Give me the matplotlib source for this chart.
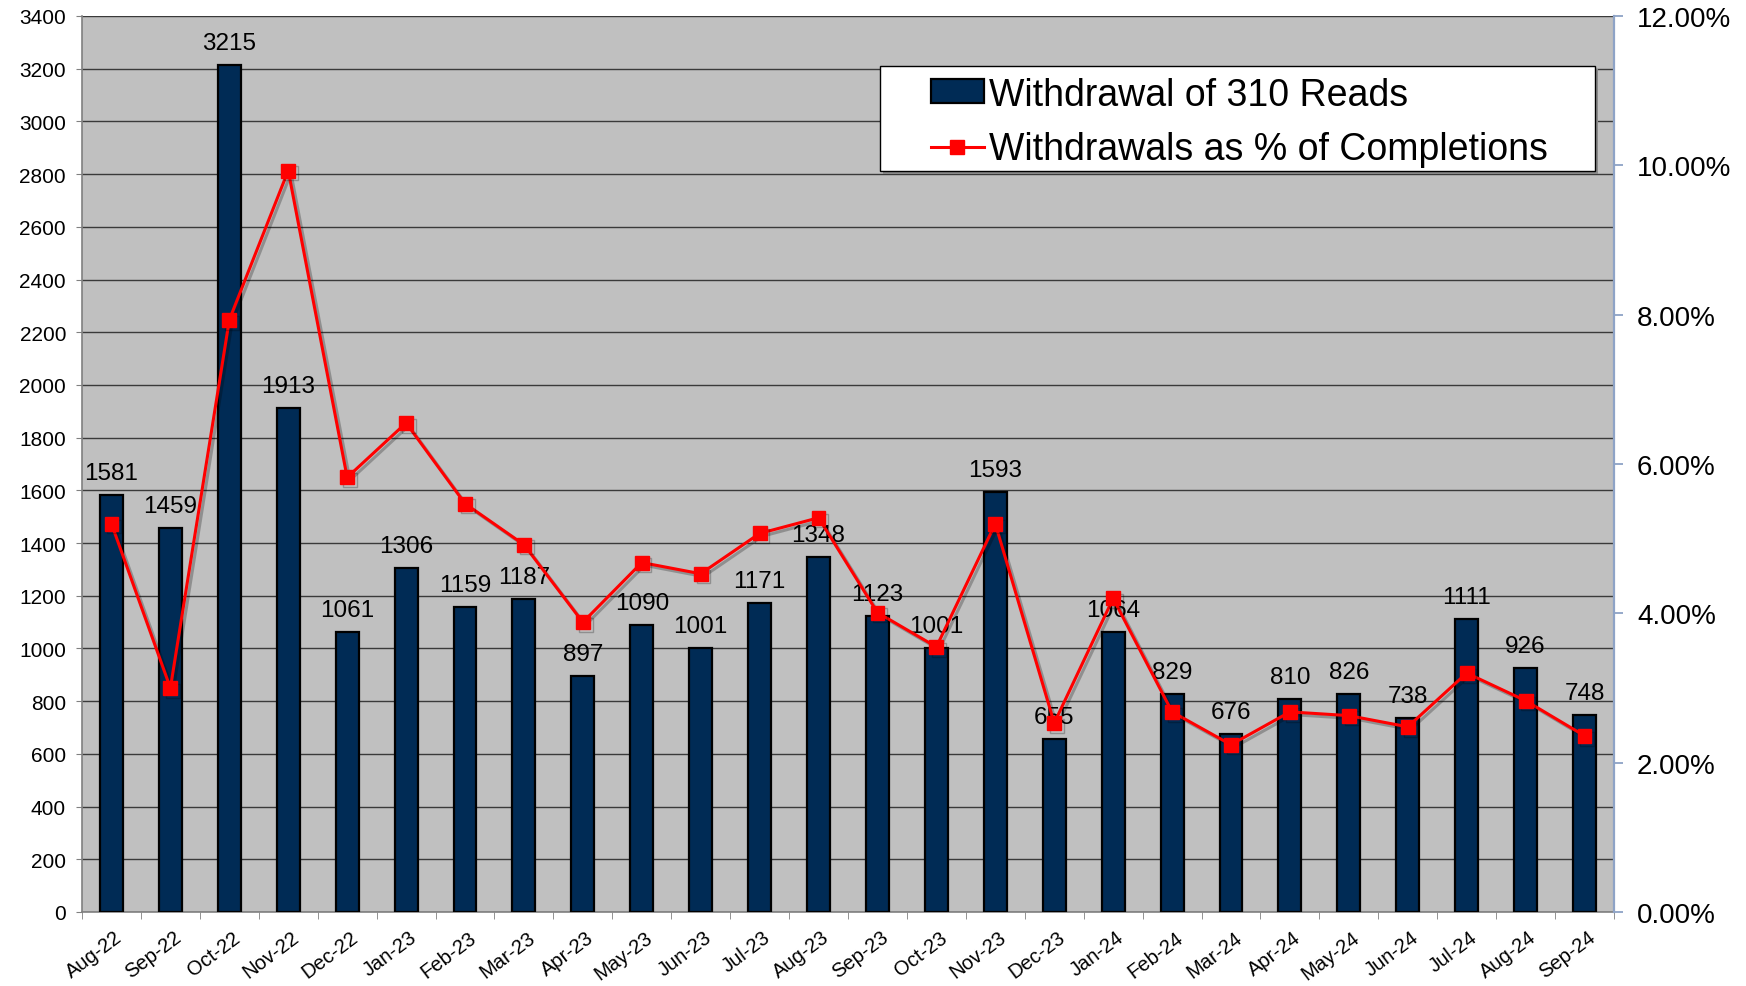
import numpy as np
import matplotlib
matplotlib.use("Agg")
import matplotlib.pyplot as plt
import matplotlib.patheffects as pe
from matplotlib.patches import Rectangle, Patch
from matplotlib.lines import Line2D
from matplotlib.ticker import FuncFormatter
from matplotlib.transforms import ScaledTranslation

months = ["Aug-22", "Sep-22", "Oct-22", "Nov-22", "Dec-22", "Jan-23", "Feb-23", "Mar-23",
          "Apr-23", "May-23", "Jun-23", "Jul-23", "Aug-23", "Sep-23", "Oct-23", "Nov-23",
          "Dec-23", "Jan-24", "Feb-24", "Mar-24", "Apr-24", "May-24", "Jun-24", "Jul-24",
          "Aug-24", "Sep-24"]
withdrawals = [1581, 1459, 3215, 1913, 1061, 1306, 1159, 1187, 897, 1090, 1001, 1171, 1348,
               1123, 1001, 1593, 655, 1064, 829, 676, 810, 826, 738, 1111, 926, 748]
pct_of_completions = [5.20, 3.00, 7.93, 9.93, 5.82, 6.55, 5.47, 4.92, 3.88, 4.68, 4.53, 5.07,
                      5.28, 4.01, 3.55, 5.20, 2.53, 4.20, 2.68, 2.24, 2.68, 2.63, 2.48, 3.20,
                      2.83, 2.36]
left_ticks = list(range(0, 3401, 200))
right_ticks = list(range(0, 13, 2))
bar_label = "Withdrawal of 310 Reads"
line_label = "Withdrawals as % of Completions"

plt.rcParams["font.family"] = ["Liberation Sans", "DejaVu Sans"]

W, H = 1746, 987
fig = plt.figure(figsize=(W / 100, H / 100), dpi=100)
L, R, T, B = 82, 1614, 17, 913
ax = fig.add_axes([L / W, 1 - B / H, (R - L) / W, (B - T) / H])
ax.set_facecolor("#C0C0C0")

x = np.arange(len(months))
ax.bar(x, withdrawals, width=0.39, color="#002B55", edgecolor="black", linewidth=1.6, zorder=3)
for xi, v in zip(x, withdrawals):
    ax.annotate(str(v), (xi, v), xytext=(0, 11.5), textcoords="offset points",
                ha="center", va="baseline", fontsize=17.5, zorder=4)

ax.set_xlim(-0.5, len(months) - 0.5)
ax.set_ylim(0, 3400)
ax.set_yticks(left_ticks)
ax.yaxis.grid(True, color="#3a3a3a", linewidth=1.0)
ax.set_axisbelow(True)
ax.tick_params(axis="y", labelsize=15, length=4.5, color="#808080", pad=7)

ax.set_xticks(x)
ax.set_xticklabels(months, rotation=37, ha="right", va="top", rotation_mode="anchor", fontsize=14.5)
ax.tick_params(axis="x", which="major", length=0, pad=11)
ax.set_xticks(np.arange(-0.5, len(months), 1), minor=True)
ax.tick_params(axis="x", which="minor", length=5, color="#808080")
for lbl in ax.get_xticklabels():
    lbl.set_transform(lbl.get_transform() + ScaledTranslation(0.03, 0, fig.dpi_scale_trans))

for s in ["top", "right"]:
    ax.spines[s].set_visible(False)
for s in ["left", "bottom"]:
    ax.spines[s].set_color("#808080")
    ax.spines[s].set_linewidth(1.2)

ax2 = ax.twinx()
ax2.set_ylim(0, 12)
ax2.set_yticks(right_ticks)
ax2.yaxis.set_major_formatter(FuncFormatter(lambda v, p: f"{v:.2f}%"))
ax2.tick_params(axis="y", labelsize=20, length=6.5, color="#8EA3C6", width=1.3, pad=10)
for s in ["top", "left", "bottom"]:
    ax2.spines[s].set_visible(False)
ax2.spines["right"].set_color("#8EA3C6")
ax2.spines["right"].set_linewidth(1.6)

shadow = [pe.SimpleLineShadow(offset=(2, -2), shadow_color="black", alpha=0.25), pe.Normal()]
ax2.plot(x, pct_of_completions, color="#FF0000", linewidth=2.2, marker="s", markersize=10,
         markerfacecolor="#FF0000", markeredgecolor="#FF0000", zorder=5, path_effects=shadow)

# legend frame
fx0, fx1, fy0, fy1 = 880, 1595, 67, 172
def ax_frac(px, py):
    return (px - L) / (R - L), (B - py) / (B - T)
x0, y0 = ax_frac(fx0, fy1)
x1, y1 = ax_frac(fx1, fy0)
sx, sy = 3 / (R - L), 3 / (B - T)
ax2.add_patch(Rectangle((x0 + sx, y0 - sy), x1 - x0, y1 - y0, transform=ax2.transAxes,
                        facecolor="#8a8a8a", edgecolor="none", zorder=8, clip_on=False))
ax2.add_patch(Rectangle((x0, y0), x1 - x0, y1 - y0, transform=ax2.transAxes,
                        facecolor="white", edgecolor="black", linewidth=1.0, zorder=9, clip_on=False))

handles = [Patch(facecolor="#002B55", edgecolor="black", linewidth=1.6),
           Line2D([0], [0], color="#FF0000", linewidth=2.2, marker="s", markersize=10)]
hx, hy = ax_frac(931, 77.5)
leg = ax2.legend(handles, [bar_label, line_label], loc="upper left", bbox_to_anchor=(hx, hy),
                 bbox_transform=ax2.transAxes, frameon=False, fontsize=27, borderpad=0,
                 borderaxespad=0, handlelength=1.4, handleheight=0.6, handletextpad=0.15,
                 labelspacing=0.50)
leg.set_zorder(10)

fig.savefig("out.png", dpi=100)
